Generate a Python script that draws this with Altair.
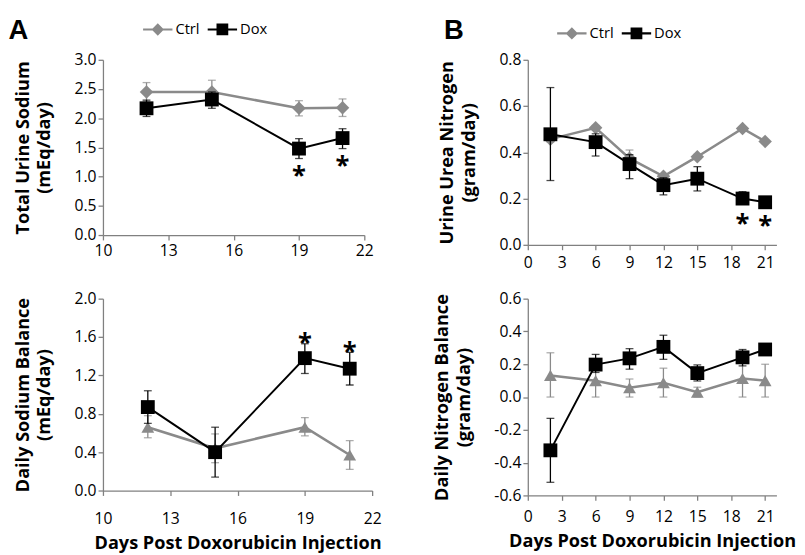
import altair as alt
import pandas as pd

GRAY = "#8a8a8a"
BLACK = "#000000"
AXIS = "#808080"
FONT = "Open Sans"

# ---- Panel A (top): Total Urine Sodium (mEq/day)
na_days = [12, 15, 19, 21]
na_ctrl = [2.45, 2.45, 2.17, 2.18]
na_ctrl_lo = [2.29, 2.25, 2.04, 2.03]
na_ctrl_hi = [2.61, 2.65, 2.30, 2.33]
na_dox = [2.17, 2.32, 1.48, 1.66]
na_dox_lo = [2.03, 2.17, 1.31, 1.48]
na_dox_hi = [2.31, 2.45, 1.65, 1.82]
na_star_days = [19, 21]
na_star_y = [1.12, 1.30]

# ---- Panel A (bottom): Daily Sodium Balance (mEq/day)
nab_days = [12, 15, 19, 21]
nab_ctrl = [0.66, 0.44, 0.66, 0.37]
nab_ctrl_lo = [0.55, 0.29, 0.57, 0.22]
nab_ctrl_hi = [0.78, 0.59, 0.76, 0.52]
nab_dox = [0.87, 0.40, 1.38, 1.27]
nab_dox_lo = [0.70, 0.14, 1.22, 1.10]
nab_dox_hi = [1.04, 0.66, 1.53, 1.44]
nab_star_days = [19, 21]
nab_star_y = [1.61, 1.51]

# ---- Panel B (top): Urine Urea Nitrogen (gram/day)
un_days = [2, 6, 9, 12, 15, 19, 21]
un_ctrl = [0.457, 0.506, 0.374, 0.296, 0.381, 0.503, 0.447]
un_ctrl_lo = [0.445, 0.496, 0.34, 0.286, 0.371, 0.495, 0.44]
un_ctrl_hi = [0.47, 0.516, 0.41, 0.306, 0.391, 0.511, 0.455]
un_dox = [0.478, 0.444, 0.349, 0.258, 0.286, 0.200, 0.184]
un_dox_lo = [0.278, 0.384, 0.286, 0.216, 0.233, 0.175, 0.176]
un_dox_hi = [0.680, 0.480, 0.390, 0.290, 0.338, 0.230, 0.192]
un_star_days = [19, 21]
un_star_y = [0.12, 0.11]

# ---- Panel B (bottom): Daily Nitrogen Balance (gram/day)
nb_days = [2, 6, 9, 12, 15, 19, 21]
nb_ctrl = [0.132, 0.10, 0.057, 0.087, 0.03, 0.113, 0.10]
nb_ctrl_lo = [0.0, 0.0, 0.0, 0.0, 0.0, 0.0, 0.0]
nb_ctrl_hi = [0.27, 0.20, 0.11, 0.176, 0.06, 0.23, 0.20]
nb_dox = [-0.325, 0.198, 0.236, 0.306, 0.146, 0.242, 0.29]
nb_dox_lo = [-0.52, 0.15, 0.17, 0.23, 0.098, 0.19, 0.27]
nb_dox_hi = [-0.13, 0.26, 0.295, 0.377, 0.196, 0.29, 0.31]

SERIES = ["Ctrl", "Dox"]
CTRL_LEG = "M-1,-0.07L1,-0.07L1,0.07L-1,0.07Z M0,-0.42L0.42,0L0,0.42L-0.42,0Z"
DOX_LEG = "M-1,-0.07L1,-0.07L1,0.07L-1,0.07Z M-0.4,-0.4L0.4,-0.4L0.4,0.4L-0.4,0.4Z"


def panel(days, ctrl, ctrl_lo, ctrl_hi, dox, dox_lo, dox_hi,
          x_domain, x_ticks, y_domain, y_ticks, y_title, ctrl_shape, ctrl_size,
          width, height, star_days=None, star_y=None, star_dy=7,
          x_title=None, x_label_pad=3, legend_xy=None, letter=None,
          letter_offset=-31, letter_dx=0, y_title_pad=21):
    xs = alt.Scale(domain=x_domain, nice=False, zero=False)
    ys = alt.Scale(domain=y_domain, nice=False, zero=False)
    xaxis_kw = dict(values=x_ticks, labelPadding=x_label_pad, tickSize=5, labelFlush=False)
    if x_title:
        xaxis_kw.update(title=x_title, titlePadding=7)
    else:
        xaxis_kw.update(title=None)
    xax = alt.Axis(**xaxis_kw)
    yax = alt.Axis(values=y_ticks, title=y_title, titlePadding=y_title_pad,
                   labelExpr="replace(format(datum.value, '.1f'), '\u2212', '-')",
                   labelPadding=2, tickSize=5, titleLineHeight=22, labelFlush=False)

    def X():
        return alt.X("day:Q", scale=xs, axis=xax)

    def Y(field):
        return alt.Y(field, scale=ys, axis=yax)

    layers = []
    for vals, lo, hi, color, shape, size, lw in [
        (ctrl, ctrl_lo, ctrl_hi, GRAY, ctrl_shape, ctrl_size, 2.6),
        (dox, dox_lo, dox_hi, BLACK, "square", 200, 2.0),
    ]:
        df = pd.DataFrame({"day": days, "value": vals, "lo": lo, "hi": hi})
        base = alt.Chart(df)
        layers.append(base.mark_rule(color=color, strokeWidth=1.3).encode(
            x=X(), y=Y("lo:Q"), y2="hi:Q"))
        layers.append(base.transform_fold(["lo", "hi"], as_=["end", "cap"]).mark_tick(
            color=color, thickness=1.3, size=8, orient="horizontal").encode(
            x=X(), y=Y("cap:Q")))
        layers.append(base.mark_line(color=color, strokeWidth=lw).encode(
            x=X(), y=Y("value:Q")))
        layers.append(base.mark_point(filled=True, opacity=1, color=color,
                                      shape=shape, size=size).encode(
            x=X(), y=Y("value:Q")))

    if star_days:
        sdf = pd.DataFrame({"day": star_days, "value": star_y})
        layers.append(alt.Chart(sdf).mark_text(
            text="*", font=FONT, fontSize=26, fontWeight="bold", color=BLACK,
            baseline="middle", dy=star_dy).encode(x=X(), y=Y("value:Q")))

    if legend_xy:
        ldf = pd.DataFrame({"day": [days[0], days[0]], "value": [ctrl[0], dox[0]],
                            "series": SERIES})
        leg = alt.Legend(orient="none", legendX=legend_xy[0], legendY=legend_xy[1],
                         direction="horizontal", title=None, symbolSize=900,
                         symbolOpacity=1, symbolStrokeWidth=0, labelFont=FONT,
                         labelFontSize=15, labelColor=BLACK, labelOffset=3,
                         columnPadding=8)
        layers.append(alt.Chart(ldf).mark_point(filled=True, opacity=0).encode(
            x=X(), y=Y("value:Q"),
            color=alt.Color("series:N", scale=alt.Scale(domain=SERIES, range=[GRAY, BLACK]),
                            legend=leg),
            shape=alt.Shape("series:N", scale=alt.Scale(domain=SERIES, range=[CTRL_LEG, DOX_LEG]),
                            legend=leg)))

    props = dict(width=width, height=height)
    if letter:
        props["title"] = alt.Title(letter, anchor="start", frame="bounds", font="Liberation Sans",
                                   fontSize=28, fontWeight="bold", color=BLACK,
                                   offset=letter_offset, dx=letter_dx)
    return alt.layer(*layers).properties(**props)


tl = panel(na_days, na_ctrl, na_ctrl_lo, na_ctrl_hi, na_dox, na_dox_lo, na_dox_hi,
           [10, 22], [10, 13, 16, 19, 22], [0, 3], [0, 0.5, 1, 1.5, 2, 2.5, 3],
           ["Total Urine Sodium", "(mEq/day)"], "diamond", 190, 267, 179,
           star_days=na_star_days, star_y=na_star_y,
           legend_xy=(41, -46), letter="A", letter_dx=-5, letter_offset=-31)

bl = panel(nab_days, nab_ctrl, nab_ctrl_lo, nab_ctrl_hi, nab_dox, nab_dox_lo, nab_dox_hi,
           [10, 22], [10, 13, 16, 19, 22], [0, 2], [0, 0.4, 0.8, 1.2, 1.6, 2.0],
           ["Daily Sodium Balance", "(mEq/day)"], "triangle-up", 170, 275, 196,
           star_days=nab_star_days, star_y=nab_star_y,
           x_title="Days Post Doxorubicin Injection", x_label_pad=16)

tr = panel(un_days, un_ctrl, un_ctrl_lo, un_ctrl_hi, un_dox, un_dox_lo, un_dox_hi,
           [0, 22], [0, 3, 6, 9, 12, 15, 18, 21], [0, 0.8], [0, 0.2, 0.4, 0.6, 0.8],
           ["Urine Urea Nitrogen", "(gram/day)"], "diamond", 190, 254, 189,
           star_days=un_star_days, star_y=un_star_y, x_label_pad=5,
           legend_xy=(30, -42), letter="B", letter_dx=6, letter_offset=-27)

br = panel(nb_days, nb_ctrl, nb_ctrl_lo, nb_ctrl_hi, nb_dox, nb_dox_lo, nb_dox_hi,
           [0, 22], [0, 3, 6, 9, 12, 15, 18, 21], [-0.6, 0.6],
           [-0.6, -0.4, -0.2, 0, 0.2, 0.4, 0.6],
           ["Daily Nitrogen Balance", "(gram/day)"], "triangle-up", 170, 254, 201,
           x_title="Days Post Doxorubicin Injection", x_label_pad=9)

chart = alt.concat(tl, tr, bl, br, columns=2, bounds="flush", align="each",
                   spacing={"row": 55, "column": 159}).resolve_scale(
    color="independent", shape="independent"
).resolve_legend(
    color="independent", shape="independent"
).properties(
    padding=0
).configure_view(stroke="transparent").configure_axis(
    grid=False, domainColor=AXIS, tickColor=AXIS, domainWidth=1.3, tickWidth=1.3,
    labelFont=FONT, labelFontSize=16, labelColor=BLACK,
    titleFont=FONT, titleFontSize=18.5, titleFontWeight="bold", titleColor=BLACK
)

chart.save("out.html", embed_options={"renderer": "svg", "actions": False})
